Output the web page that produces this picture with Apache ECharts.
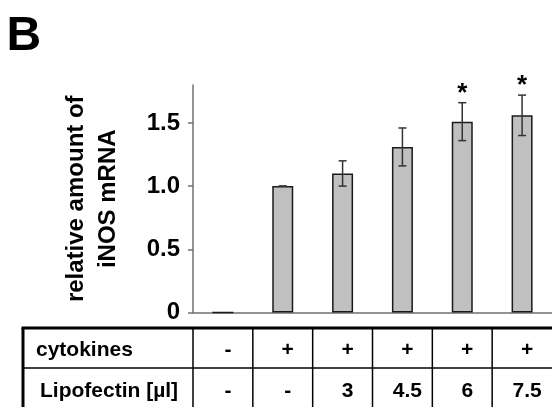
<!DOCTYPE html>
<html>
<head>
<meta charset="utf-8">
<script src="https://cdn.jsdelivr.net/npm/echarts@6/dist/echarts.min.js"></script>
<style>
  html, body { margin: 0; padding: 0; background: #fff; }
  #chart { width: 552px; height: 407px; }
</style>
</head>
<body>
<div id="chart"></div>
<script>
// one entry per bar / table column
var groups = ["g1", "g2", "g3", "g4", "g5", "g6"];
var mrna = [0, 1.0, 1.1, 1.31, 1.51, 1.56];
var mrnaErr = [0, 0, 0.1, 0.15, 0.15, 0.16];
var signif = ["", "", "", "", "*", "*"];
var yTicks = [0, 0.5, 1.0, 1.5];
var yTickLabels = ["0", "0.5", "1.0", "1.5"];
// table under the chart
var rowNames = ["cytokines", "Lipofectin [µl]"];
var cytokines = ["-", "+", "+", "+", "+", "+"];
var lipofectin = ["-", "-", "3", "4.5", "6", "7.5"];

var font = "'Liberation Sans', Arial, Helvetica, sans-serif";
var axisGray = "#707070";
var chart = echarts.init(document.getElementById("chart"));

function tickLabel(v) {
  for (var k = 0; k < yTicks.length; k++) {
    if (Math.abs(yTicks[k] - v) < 1e-6) return yTickLabels[k];
  }
  return "";
}

var option = {
  animation: false,
  grid: { left: 193, top: 85, width: 361, height: 227.5 },
  xAxis: {
    type: "category",
    data: groups,
    axisLine: { lineStyle: { color: axisGray, width: 1.5 } },
    axisTick: { length: 4, lineStyle: { color: axisGray, width: 1.5 } },
    axisLabel: { show: false },
    splitLine: { show: false },
  },
  yAxis: {
    type: "value",
    min: 0,
    max: 1.8,
    name: "relative amount of\niNOS mRNA",
    nameLocation: "middle",
    nameGap: 69,
    nameTextStyle: {
      fontFamily: font,
      fontWeight: "bold",
      fontSize: 24,
      lineHeight: 32,
      color: "#000",
    },
    axisLine: { show: true, lineStyle: { color: axisGray, width: 1.5 } },
    axisTick: {
      show: true,
      length: 5,
      customValues: yTicks,
      lineStyle: { color: axisGray, width: 1.5 },
    },
    axisLabel: {
      customValues: yTicks,
      formatter: tickLabel,
      margin: 13,
      padding: [4, 0, 0, 0],
      fontFamily: font,
      fontWeight: "bold",
      fontSize: 24,
      color: "#000",
    },
    splitLine: { show: false },
  },
  series: [
    {
      type: "bar",
      data: mrna,
      barWidth: 21,
      itemStyle: { color: "#c0c0c0", borderColor: "#1a1a1a", borderWidth: 1.5 },
      z: 2,
    },
    {
      type: "custom",
      data: groups.map(function (g, i) {
        return [i, mrna[i], mrnaErr[i]];
      }),
      encode: { x: 0, y: 1 },
      z: 3,
      renderItem: function (params, api) {
        var i = api.value(0);
        var v = api.value(1);
        var e = api.value(2);
        if (!(v > 0)) return { type: "group", children: [] };
        var top = api.coord([i, v + e]);
        var bot = api.coord([i, v - e]);
        var cap = 4;
        var ls = { stroke: "#333", lineWidth: 1.5 };
        var kids = [
          { type: "line", shape: { x1: top[0], y1: top[1], x2: bot[0], y2: bot[1] }, style: ls },
          { type: "line", shape: { x1: top[0] - cap, y1: top[1], x2: top[0] + cap, y2: top[1] }, style: ls },
          { type: "line", shape: { x1: bot[0] - cap, y1: bot[1], x2: bot[0] + cap, y2: bot[1] }, style: ls },
        ];
        if (signif[i]) {
          kids.push({
            type: "text",
            x: top[0],
            y: top[1] - 9,
            style: {
              text: signif[i],
              fontFamily: font,
              fontWeight: "bold",
              fontSize: 26,
              fill: "#000",
              align: "center",
              verticalAlign: "middle",
            },
          });
        }
        return { type: "group", children: kids };
      },
    },
  ],
};
chart.setOption(option);

// table lined up with the category bands of the x axis
function drawTable() {
  var centers = groups.map(function (g, i) {
    return chart.convertToPixel({ xAxisIndex: 0 }, i);
  });
  var band = centers[1] - centers[0];
  var tLeft = 23, tTop = 328, rowH = 40, tRight = 560, tBottom = 430;
  var els = [];
  function line(x1, y1, x2, y2, w) {
    els.push({
      type: "line",
      shape: { x1: x1, y1: y1, x2: x2, y2: y2 },
      style: { stroke: "#000", lineWidth: w },
    });
  }
  function text(x, y, s, align) {
    els.push({
      type: "text",
      x: x,
      y: y,
      style: {
        text: s,
        fontFamily: font,
        fontWeight: "bold",
        fontSize: 21,
        fill: "#000",
        align: align,
        verticalAlign: "middle",
      },
    });
  }
  line(tLeft - 1.5, tTop, tRight, tTop, 3);
  line(tLeft, tTop, tLeft, tBottom, 3);
  line(tLeft, tTop + rowH, tRight, tTop + rowH, 1.5);
  centers.forEach(function (c) {
    line(c - band / 2, tTop, c - band / 2, tBottom, 1.5);
  });
  text(36, tTop + rowH / 2 + 2, rowNames[0], "left");
  text(40, tTop + rowH * 1.5 + 3, rowNames[1], "left");
  centers.forEach(function (c, i) {
    text(c + 5, tTop + rowH / 2 + 2, cytokines[i], "center");
    text(c + 5, tTop + rowH * 1.5 + 3, lipofectin[i], "center");
  });
  // panel letter
  els.push({
    type: "text",
    x: 6.5,
    y: 37,
    style: {
      text: "B",
      fontFamily: font,
      fontWeight: "bold",
      fontSize: 48,
      fill: "#000",
      align: "left",
      verticalAlign: "middle",
    },
  });
  chart.setOption({ graphic: els });
}
drawTable();
</script>
</body>
</html>
